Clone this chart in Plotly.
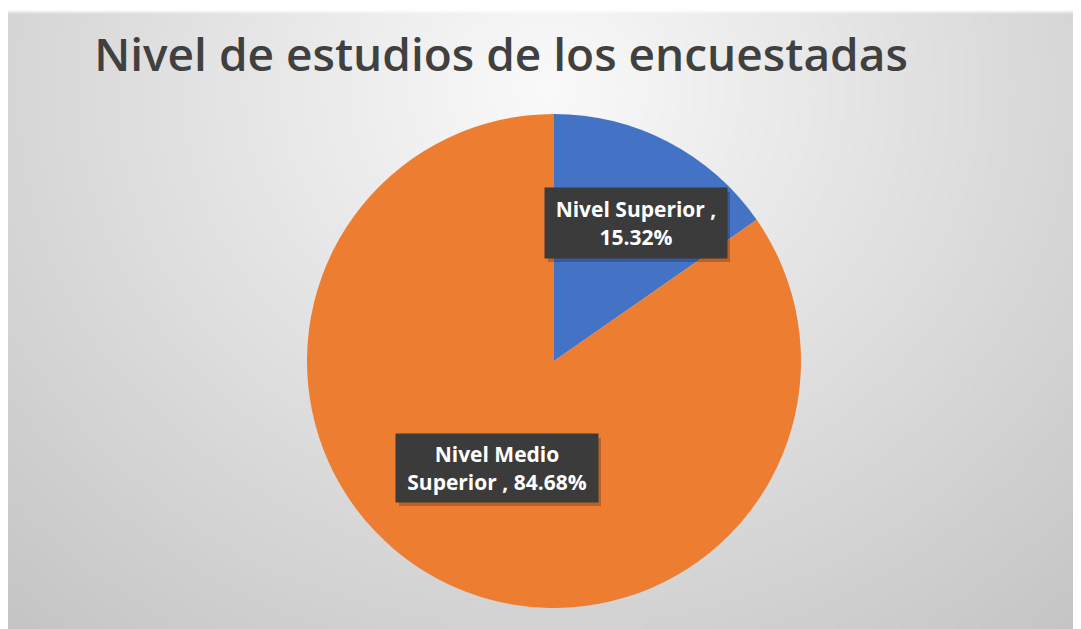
import base64, struct, zlib
import numpy as np
import plotly.graph_objects as go

# ---- data ----
labels = ["Nivel Superior", "Nivel Medio Superior"]
values = [15.32, 84.68]
colors = ["#4472C4", "#ED7D31"]
title_text = "Nivel de estudios de los encuestadas"

# page body has an 8px margin, so the figure is drawn 8px in from the corner
OFF = 8
W, H = 1081 - OFF, 629 - OFF

# ---- background: radial grey gradient as a png image ----
def make_png(arr):
    h, w, _ = arr.shape
    raw = b"".join(b"\x00" + arr[i].tobytes() for i in range(h))
    def chunk(tag, data):
        c = struct.pack(">I", len(data)) + tag + data
        return c + struct.pack(">I", zlib.crc32(tag + data) & 0xffffffff)
    png = b"\x89PNG\r\n\x1a\n"
    png += chunk(b"IHDR", struct.pack(">IIBBBBB", w, h, 8, 2, 0, 0, 0))
    png += chunk(b"IDAT", zlib.compress(raw, 9))
    png += chunk(b"IEND", b"")
    return "data:image/png;base64," + base64.b64encode(png).decode()

s = 4
w, h = W // s + 1, H // s + 1
yy, xx = np.mgrid[0:h, 0:w].astype(float) * s
d = np.sqrt(((xx - 537) / 1.1) ** 2 + ((yy - 80) * 1.0) ** 2)
g = np.clip(250 - 0.073 * d, 190, 250)
img = np.repeat(g[:, :, None], 3, axis=2)
mask = (yy < 3)
img[mask] = 255
img = img.astype(np.uint8)
bg_uri = make_png(img)

cx, cy, r = 546, 353, 247

fig = go.Figure()
fig.add_trace(go.Pie(
    labels=labels,
    values=values,
    marker=dict(colors=colors, line=dict(width=0)),
    sort=False,
    direction="clockwise",
    rotation=0,
    textinfo="none",
    hoverinfo="label+percent",
    showlegend=False,
    domain=dict(x=[(cx - r) / W, (cx + r) / W], y=[(H - cy - r) / H, (H - cy + r) / H]),
))

# label boxes: (center x, center y, inner width, inner height) in figure pixels
boxes = [
    (628, 215, 170, 58),
    (489, 460, 190, 56),
]
texts = [
    f"<b>{labels[0]} ,<br>{values[0]:.2f}%</b>",
    f"<b>Nivel Medio<br>Superior , {values[1]:.2f}%</b>",
]
pad = 6
ann_list, shapes = [], []
for (bx, by, bw, bh), t in zip(boxes, texts):
    x0 = bx - bw / 2 - pad + 3
    x1 = bx + bw / 2 + pad + 3
    y0 = by - bh / 2 - pad + 4
    y1 = by + bh / 2 + pad + 4
    shapes.append(dict(type="rect", xref="paper", yref="paper", layer="above",
                       x0=x0 / W, x1=x1 / W, y0=1 - y1 / H, y1=1 - y0 / H,
                       fillcolor="rgba(0,0,0,0.22)", line=dict(width=0)))
    ann_list.append(dict(text=t, x=bx / W, y=1 - by / H, xref="paper", yref="paper",
                         xanchor="center", yanchor="middle", width=bw, height=bh,
                         showarrow=False, font=dict(family="Open Sans", size=21, color="white"),
                         bgcolor="#3b3b3b", borderpad=pad, align="center", valign="middle"))

fig.update_layout(
    width=W, height=H,
    margin=dict(l=0, r=0, t=0, b=0),
    paper_bgcolor="white",
    plot_bgcolor="rgba(0,0,0,0)",
    title=dict(text=title_text, x=493 / W, xanchor="center", y=1 - 47 / H, yanchor="middle",
               font=dict(family="Open Sans", size=46, color="#404040", weight=600)),
    images=[dict(source=bg_uri, xref="paper", yref="paper", x=0, y=1, sizex=1, sizey=1,
                 sizing="stretch", xanchor="left", yanchor="top", layer="below")],
    annotations=ann_list,
    shapes=shapes,
)

fig.write_html("out.html")
